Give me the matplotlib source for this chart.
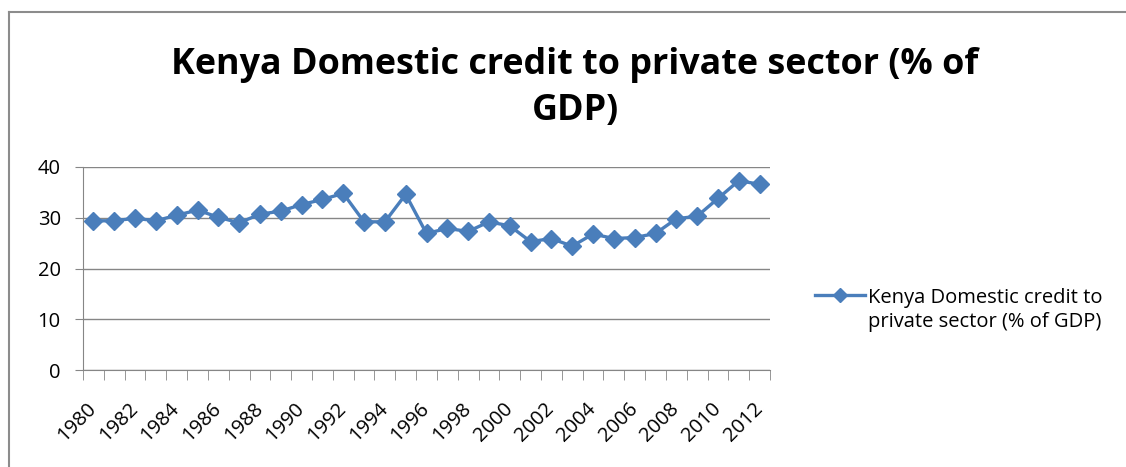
import numpy as np
import matplotlib.pyplot as plt
from matplotlib.lines import Line2D

# data
years = list(range(1980, 2013))
credit = [29.4, 29.4, 29.9, 29.4, 30.5, 31.5, 30.1, 29.0, 30.7, 31.3,
          32.6, 33.6, 34.8, 29.2, 29.2, 34.6, 26.9, 27.9, 27.3, 29.2,
          28.4, 25.3, 25.9, 24.4, 26.8, 25.9, 26.1, 26.9, 29.8, 30.3,
          33.8, 37.3, 36.6]
y_ticks = [0, 10, 20, 30, 40]
title = "Kenya Domestic credit to private sector (% of\nGDP)"
series_name = "Kenya Domestic credit to\nprivate sector (% of GDP)"

blue = "#4A7EBB"
grid_gray = "#868686"
plt.rcParams['font.family'] = ['Open Sans', 'DejaVu Sans']

fig = plt.figure(figsize=(11.26, 4.67), dpi=100)
ax = fig.add_axes([83/1126, 1 - 370/467, (770 - 83)/1126, (370 - 167)/467])

# chart frame (only left and top edges are visible in the crop)
fig.add_artist(Line2D([9/1126, 9/1126], [0, 1 - 12/467], color="#8c8c8c", lw=1.5,
                      transform=fig.transFigure))
fig.add_artist(Line2D([9/1126, 1], [1 - 12/467, 1 - 12/467], color="#8c8c8c", lw=1.5,
                      transform=fig.transFigure))

x = np.arange(len(years))
ax.plot(x, credit, color=blue, lw=2.4, marker='D', markersize=9,
        markerfacecolor=blue, markeredgecolor=blue, zorder=3)

ax.set_xlim(-0.5, len(years) - 0.5)
ax.set_ylim(0, 40)
ax.set_yticks(y_ticks)
ax.yaxis.grid(True, color=grid_gray, lw=1)
ax.set_axisbelow(True)

for s in ['top', 'right']:
    ax.spines[s].set_visible(False)
ax.spines['left'].set_color(grid_gray)
ax.spines['bottom'].set_color(grid_gray)

# category boundary ticks on x, labels every other year
ax.set_xticks(np.arange(-0.5, len(years)), minor=True)
ax.set_xticks(x[::2])
ax.set_xticklabels([str(y) for y in years[::2]], rotation=45, ha='right',
                   va='center', rotation_mode='anchor', fontsize=14.5)
ax.tick_params(axis='x', which='major', length=0, pad=26)
ax.tick_params(axis='x', which='minor', length=7, color=grid_gray, direction='out')
ax.tick_params(axis='y', length=6, color=grid_gray, labelsize=14.5, pad=10)

fig.text(575/1126, 1 - 88/467, title, ha='center', va='center', fontsize=25.8,
         fontweight='bold', linespacing=1.4)

# legend
fig.add_artist(Line2D([815/1126, 865/1126], [1 - 295/467] * 2, color=blue, lw=2.4,
                      transform=fig.transFigure))
fig.add_artist(Line2D([840/1126], [1 - 295/467], color=blue, marker='D', markersize=7,
                      transform=fig.transFigure))
fig.text(868/1126, 1 - 310/467, series_name, ha='left', va='center', fontsize=14.5,
         linespacing=1.2)

fig.savefig("out.png", dpi=100, facecolor='white')
